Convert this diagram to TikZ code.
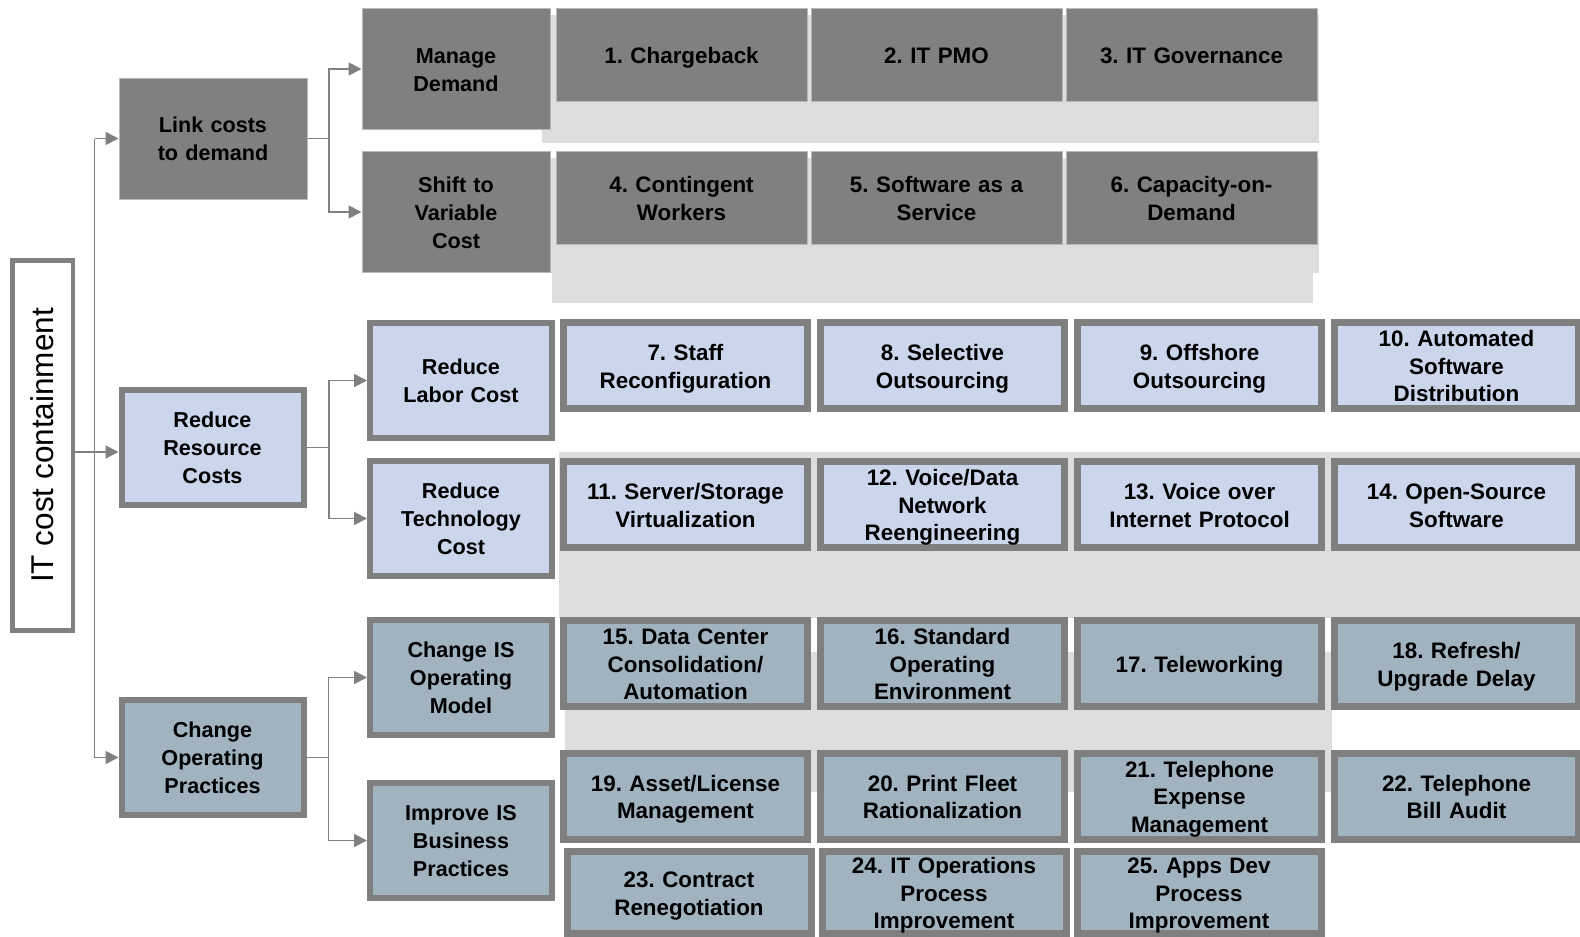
\documentclass[tikz,border=0pt]{standalone}
\usepackage{fontspec}
\setmainfont{Liberation Sans}
\frenchspacing
\usetikzlibrary{positioning,arrows.meta}

\definecolor{boxgray}{HTML}{808080}
\definecolor{edgegray}{HTML}{7F7F7F}
\definecolor{panelgray}{HTML}{DDDDDD}
\definecolor{paleblue}{HTML}{CBD5EC}
\definecolor{steelblue}{HTML}{A0B3BF}

\tikzset{
  lvl/.style={align=center, text width=90pt, inner sep=0pt, font=\fontsize{10.8}{14}\selectfont\bfseries,
    execute at begin node={\rule{0pt}{10.6pt}}, execute at end node={\rule[-2.3pt]{0pt}{0pt}}},
  darklvl/.style={lvl, fill=boxgray, draw=gray!55, line width=0.5pt, minimum width=94pt, minimum height=60.5pt},
  bluelvl/.style={lvl, fill=paleblue, draw=edgegray, line width=3pt, outer sep=1.5pt, minimum width=91pt, minimum height=57.5pt},
  steellvl/.style={bluelvl, fill=steelblue},
  item/.style={align=center, text width=122pt, inner sep=0pt, font=\fontsize{11.2}{13.8}\selectfont\bfseries,
    execute at begin node={\rule{0pt}{11.2pt}}, execute at end node={\rule[-2.4pt]{0pt}{0pt}}},
  darkitem/.style={item, fill=boxgray, draw=gray!55, line width=0.5pt, minimum width=125.5pt, minimum height=46.5pt},
  blueitem/.style={item, fill=paleblue, draw=edgegray, line width=3.5pt, minimum width=122pt, minimum height=43pt},
  steelitem/.style={blueitem, fill=steelblue},
  rootbox/.style={draw=edgegray, fill=white, line width=2.25pt, outer sep=1.1pt, rotate=90, inner sep=0pt,
    minimum width=185pt, minimum height=30.25pt, font=\fontsize{15.75}{18}\selectfont},
  conn/.style={draw=boxgray, line width=0.9pt},
  arr/.style={conn, -{Triangle[length=6.5pt,width=6.5pt]}},
  panel/.style={fill=panelgray}
}

\begin{document}
\begin{tikzpicture}[x=0.5pt, y=-0.5pt, node distance=128.5pt, on grid]
  \useasboundingbox (0,0) rectangle (1580,937);

  % grey bands behind the rows
  \fill[panel] (542,15) rectangle (1319,143);
  \fill[panel] (542,158) rectangle (1319,273);
  \fill[panel] (552,240) rectangle (1313,303);
  \fill[panel] (559,452) rectangle (1580,618);
  \fill[panel] (565,652) rectangle (1332,792);

  % root and first level
  \node[rootbox] (itbox) at (42.5,445.5) {IT cost containment};
  \node[darklvl] (link) at (213,138.5) {Link costs\\to demand};
  \node[bluelvl] (rrc) at (212.5,447.5) {Reduce\\Resource\\Costs};
  \node[steellvl] (chop) at (212.5,757.5) {Change\\Operating\\Practices};

  % second level
  \node[darklvl] (manage) at (456,69) {Manage\\Demand};
  \node[darklvl] (shift) at (456,212) {Shift to\\Variable\\Cost};
  \node[bluelvl] (labor) at (461,380.5) {Reduce\\Labor Cost};
  \node[bluelvl] (tech) at (461,518.5) {Reduce\\Technology\\Cost};
  \node[steellvl] (opmodel) at (461,677.5) {Change IS\\Operating\\Model};
  \node[steellvl] (bizprac) at (461,840.5) {Improve IS\\Business\\Practices};

  % initiatives
  \node[darkitem] (i1) at (681.5,54.5) {1. Chargeback};
  \node[darkitem] (i2) [right=127.5pt of i1] {2. IT PMO};
  \node[darkitem] (i3) [right=127.5pt of i2] {3. IT Governance};
  \node[darkitem] (i4) at (681.5,197.5) {4. Contingent\\Workers};
  \node[darkitem] (i5) [right=127.5pt of i4] {5. Software as a\\Service};
  \node[darkitem] (i6) [right=127.5pt of i5] {6. Capacity-on-\\Demand};

  \node[blueitem] (i7) at (685.5,365.5) {7. Staff\\Reconfiguration};
  \node[blueitem] (i8) [right=of i7] {8. Selective\\Outsourcing};
  \node[blueitem] (i9) [right=of i8] {9. Offshore\\Outsourcing};
  \node[blueitem] (i10) [right=of i9] {10. Automated\\Software\\Distribution};
  \node[blueitem] (i11) at (685.5,504.5) {11. Server/Storage\\Virtualization};
  \node[blueitem] (i12) [right=of i11] {12. Voice/Data\\Network\\Reengineering};
  \node[blueitem] (i13) [right=of i12] {13. Voice over\\Internet Protocol};
  \node[blueitem] (i14) [right=of i13] {14. Open-Source\\Software};

  \node[steelitem] (i15) at (685.5,663.5) {15. Data Center\\Consolidation/\\Automation};
  \node[steelitem] (i16) [right=of i15] {16. Standard\\Operating\\Environment};
  \node[steelitem] (i17) [right=of i16] {17. Teleworking};
  \node[steelitem] (i18) [right=of i17] {18. Refresh/\\Upgrade Delay};
  \node[steelitem] (i19) at (685.5,796) {19. Asset/License\\Management};
  \node[steelitem] (i20) [right=of i19] {20. Print Fleet\\Rationalization};
  \node[steelitem] (i21) [right=of i20] {21. Telephone\\Expense\\Management};
  \node[steelitem] (i22) [right=of i21] {22. Telephone\\Bill Audit};
  \node[steelitem, minimum height=41pt] (i23) at (689,892.5) {23. Contract\\Renegotiation};
  \node[steelitem, minimum height=41pt] (i24) [right=127.5pt of i23] {24. IT Operations\\Process\\Improvement};
  \node[steelitem, minimum height=41pt] (i25) [right=127.5pt of i24] {25. Apps Dev\\Process\\Improvement};

  % connectors
  \coordinate (trunk) at (94.5,452);
  \draw[conn] (trunk |- link.west) -- (trunk |- chop.west);
  \draw[arr] (itbox.south |- trunk) -- (rrc.west |- trunk);
  \draw[arr] (trunk |- link.west) -- (link.west);
  \draw[arr] (trunk |- chop.west) -- (chop.west);

  \draw[arr] (link.east) -- ++(21.5,0) |- (manage.west);
  \draw[arr] (link.east) -- ++(21.5,0) |- (shift.west);
  \draw[arr] (rrc.east) -- ++(22.5,0) |- (labor.west);
  \draw[arr] (rrc.east) -- ++(22.5,0) |- (tech.west);
  \draw[arr] (chop.east) -- ++(22,0) |- (opmodel.west);
  \draw[arr] (chop.east) -- ++(22,0) |- (bizprac.west);
\end{tikzpicture}
\end{document}
